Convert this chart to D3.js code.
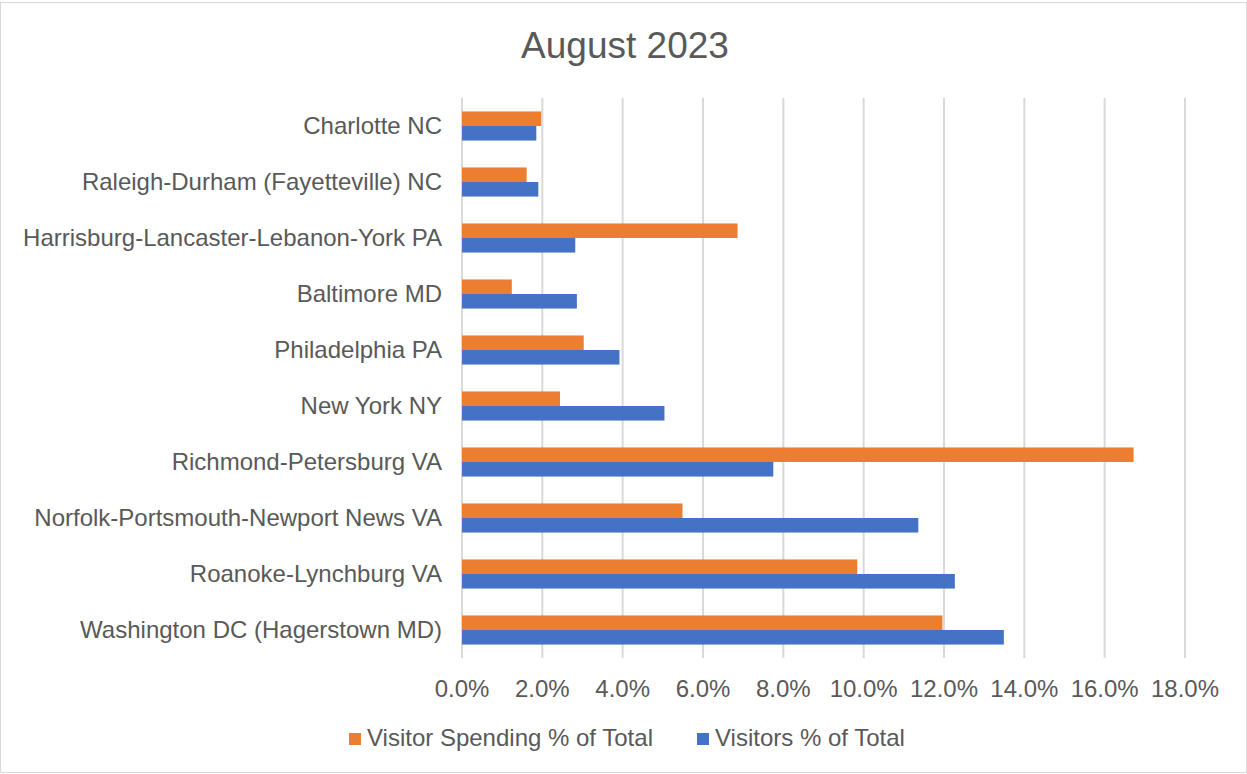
<!DOCTYPE html>
<html><head><meta charset="utf-8">
<script src="https://cdn.jsdelivr.net/npm/d3@7"></script>
<style>body{margin:0;background:#fff;}svg{display:block;font-family:"Liberation Sans",Arial,sans-serif;}</style>
</head><body>
<svg id="c" width="1247" height="774"></svg>
<script>
const categories = ["Charlotte NC","Raleigh-Durham (Fayetteville) NC","Harrisburg-Lancaster-Lebanon-York PA","Baltimore MD","Philadelphia PA","New York NY","Richmond-Petersburg VA","Norfolk-Portsmouth-Newport News VA","Roanoke-Lynchburg VA","Washington DC (Hagerstown MD)"];
const spending = [1.97,1.61,6.86,1.24,3.03,2.44,16.72,5.49,9.84,11.96];
const visitors = [1.85,1.90,2.82,2.86,3.92,5.04,7.75,11.36,12.27,13.49];
const seriesNames = ["Visitor Spending % of Total","Visitors % of Total"];
const seriesColors = ["#ED7D31","#4472C4"];
const xTicks = [0,2,4,6,8,10,12,14,16,18];

const svg = d3.select("#c");
svg.append("rect").attr("x",0.5).attr("y",2.5).attr("width",1246).attr("height",770)
  .attr("fill","#fff").attr("stroke","#D9D9D9").attr("stroke-width",1);

svg.append("text").attr("x",625).attr("y",58).attr("text-anchor","middle")
  .attr("font-size",37).attr("fill","#595959").text("August 2023");

const pLeft = 462, pRight = 1185, pTop = 98, pBottom = 658;
const x = d3.scaleLinear().domain([0,18]).range([pLeft,pRight]);
const y = d3.scaleBand().domain(categories).range([pTop,pBottom]).paddingInner(0.48).paddingOuter(0.24);
const sub = d3.scaleBand().domain([0,1]).range([0,y.bandwidth()]);

svg.append("g").selectAll("line").data(xTicks).join("line")
  .attr("x1",d=>x(d)).attr("x2",d=>x(d)).attr("y1",pTop).attr("y2",pBottom)
  .attr("stroke","#D9D9D9").attr("stroke-width",2);

const series = [spending, visitors];
series.forEach((vals,si)=>{
  svg.append("g").selectAll("rect").data(categories).join("rect")
    .attr("x",x(0)).attr("y",(c)=>y(c)+sub(si))
    .attr("width",(c,i)=>x(vals[i])-x(0)).attr("height",sub.bandwidth())
    .attr("fill",seriesColors[si]);
});

svg.append("g").selectAll("text").data(categories).join("text")
  .attr("x",442).attr("y",c=>y(c)+y.bandwidth()/2).attr("dy","0.35em")
  .attr("text-anchor","end").attr("font-size",24).attr("fill","#595959").text(c=>c);

svg.append("g").selectAll("text").data(xTicks).join("text")
  .attr("x",d=>x(d)).attr("y",697).attr("text-anchor","middle")
  .attr("font-size",24).attr("fill","#595959").text(d=>d.toFixed(1)+"%");

const legendX = [349,697];
seriesNames.forEach((n,i)=>{
  svg.append("rect").attr("x",legendX[i]).attr("y",733).attr("width",12).attr("height",12).attr("fill",seriesColors[i]);
  svg.append("text").attr("x",legendX[i]+18).attr("y",746).attr("font-size",24).attr("fill","#595959").text(n);
});
</script>
</body></html>
